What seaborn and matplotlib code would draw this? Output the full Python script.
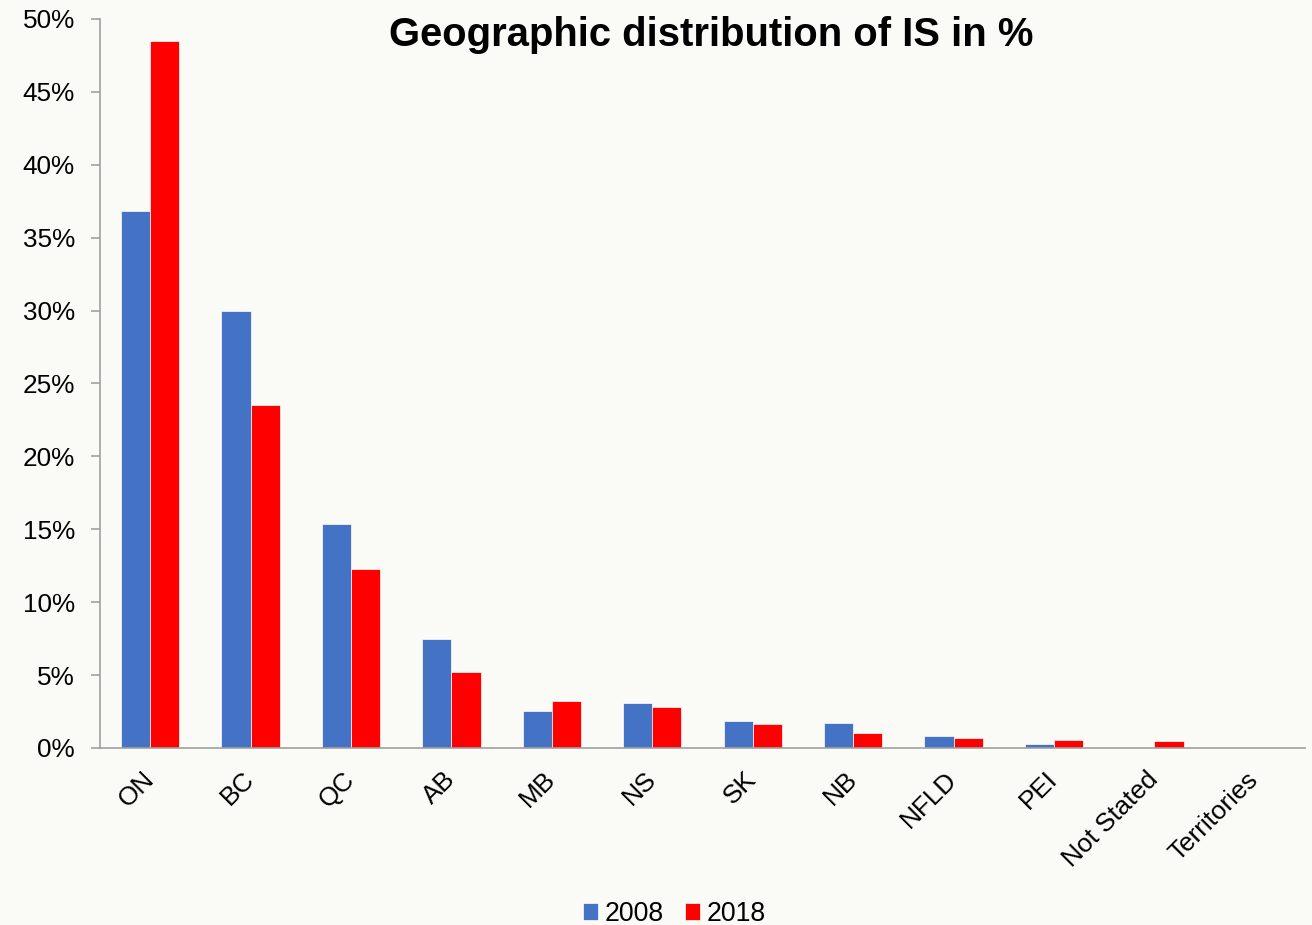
import pandas as pd
import matplotlib.pyplot as plt
import seaborn as sns

provinces = ['ON', 'BC', 'QC', 'AB', 'MB', 'NS', 'SK', 'NB', 'NFLD', 'PEI',
             'Not Stated', 'Territories']
share_2008 = [36.8, 30.0, 15.35, 7.5, 2.55, 3.1, 1.85, 1.7, 0.8, 0.25, 0.0, 0.03]
share_2018 = [48.5, 23.5, 12.25, 5.2, 3.2, 2.8, 1.65, 1.0, 0.7, 0.55, 0.45, 0.03]
years = ['2008', '2018']
colors = ['#4472C4', '#FF0000']
y_ticks = list(range(0, 51, 5))

df = pd.DataFrame({'Province': provinces * 2,
                   'Year': [years[0]] * len(provinces) + [years[1]] * len(provinces),
                   'Share': share_2008 + share_2018})

sns.set_theme(style="white")
plt.rcParams['font.family'] = ['Liberation Sans', 'DejaVu Sans']
plt.rcParams['text.color'] = 'black'
plt.rcParams['xtick.labelcolor'] = 'black'
plt.rcParams['ytick.labelcolor'] = 'black'
bg = '#FAFAF6'

fig = plt.figure(figsize=(13.12, 9.25), dpi=100, facecolor=bg)
ax = fig.add_axes([0.0762, 0.1914, 0.9185, 0.7881], facecolor=bg)

sns.barplot(data=df, x='Province', y='Share', hue='Year', palette=colors,
            saturation=1, width=0.58, edgecolor='white', linewidth=0.5, ax=ax)

ax.set_xlim(-0.5, len(provinces) - 0.5)
ax.set_ylim(0, 50)
ax.set_yticks(y_ticks)
ax.set_yticklabels([f'{v}%' for v in y_ticks], fontsize=18.8)
ax.set_xticks(range(len(provinces)))
ax.set_xticklabels(provinces, rotation=45, ha='right', va='center',
                   rotation_mode='anchor', fontsize=18.8)
ax.set_xticks([i - 0.5 for i in range(len(provinces) + 1)], minor=True)
ax.tick_params(axis='x', which='major', length=0, pad=20)
ax.tick_params(axis='x', which='minor', length=6.5, color='#A0A0A0', width=1.2)
ax.tick_params(axis='y', length=6.5, color='#A0A0A0', width=1.2, pad=11.5, left=True)
ax.set_xlabel('')
ax.set_ylabel('')

for side in ['top', 'right']:
    ax.spines[side].set_visible(False)
for side in ['left', 'bottom']:
    ax.spines[side].set_color('#A0A0A0')
    ax.spines[side].set_linewidth(1.2)

ax.set_title('Geographic distribution of IS in %', fontsize=28.8, fontweight='bold',
             x=0.507, y=0.952)

ax.legend(loc='lower center', bbox_to_anchor=(0.514, -0.028), bbox_transform=fig.transFigure,
          ncol=2, frameon=False, fontsize=19.2, handlelength=0.55, handleheight=0.55,
          handletextpad=0.25, columnspacing=0.8)

fig.savefig('out.png', dpi=100, facecolor=bg)
